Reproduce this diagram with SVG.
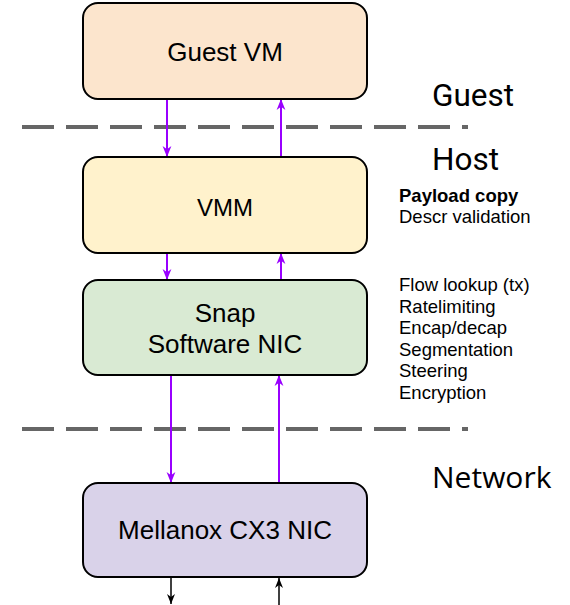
<svg xmlns="http://www.w3.org/2000/svg" width="570" height="605" viewBox="0 0 570 605">
<style>
.box{stroke:#000;stroke-width:2}
.lbl{font-family:Arial,"Liberation Sans",Helvetica,sans-serif;font-size:26px;fill:#000;text-anchor:middle}
.side{font-family:Roboto,sans-serif;font-size:31.5px;fill:#000}
.note{font-family:Arial,"Liberation Sans",Helvetica,sans-serif;font-size:18.5px;fill:#000}
.dash{stroke:#666;stroke-width:4;stroke-dasharray:32 12;fill:none}
.p{stroke:#9900FF;stroke-width:2;fill:none}
.k{stroke:#000;stroke-width:1.5;fill:none}
</style>
<defs>
<marker id="ap" viewBox="0 0 10 10" refX="10" refY="5" markerWidth="11" markerHeight="11" markerUnits="userSpaceOnUse" orient="auto">
<path d="M0,1 L10,5 L0,9 L3,5 Z" fill="#9900FF"/>
</marker>
<marker id="ak" viewBox="0 0 10 10" refX="10" refY="5" markerWidth="10" markerHeight="10" markerUnits="userSpaceOnUse" orient="auto">
<path d="M0,1 L10,5 L0,9 L3,5 Z" fill="#000"/>
</marker>
</defs>

<g id="separators">
<line class="dash" x1="22" y1="127" x2="468" y2="127"/>
<line class="dash" x1="22" y1="429" x2="468" y2="429"/>
</g>

<g id="connectors">
<line class="p" x1="167" y1="99" x2="167" y2="157" marker-end="url(#ap)"/>
<line class="p" x1="281" y1="157" x2="281" y2="99" marker-end="url(#ap)"/>
<line class="p" x1="167" y1="253" x2="167" y2="280" marker-end="url(#ap)"/>
<line class="p" x1="281" y1="280" x2="281" y2="253" marker-end="url(#ap)"/>
<line class="p" x1="171" y1="375" x2="171" y2="483" marker-end="url(#ap)"/>
<line class="p" x1="279" y1="483" x2="279" y2="375" marker-end="url(#ap)"/>
<line class="k" x1="171" y1="577" x2="171" y2="604" marker-end="url(#ak)"/>
<line class="k" x1="279" y1="605" x2="279" y2="578" marker-end="url(#ak)"/>
</g>

<g id="guest-vm">
<rect class="box" x="83" y="3" width="284" height="96" rx="15" fill="#FCE5CD"/>
<text class="lbl" x="225" y="61">Guest VM</text>
</g>

<g id="vmm">
<rect class="box" x="83" y="157" width="284" height="96" rx="15" fill="#FFF2CC"/>
<text class="lbl" x="225" y="216" style="font-size:24px">VMM</text>
</g>

<g id="snap">
<rect class="box" x="83" y="280" width="284" height="95" rx="15" fill="#D9EAD3"/>
<text class="lbl" x="225" y="322">Snap</text>
<text class="lbl" x="225" y="353">Software NIC</text>
</g>

<g id="mellanox">
<rect class="box" x="83" y="483" width="284" height="94" rx="15" fill="#D9D2E9"/>
<text class="lbl" x="225" y="539">Mellanox CX3 NIC</text>
</g>

<g id="labels">
<text class="side" x="432" y="106">Guest</text>
<text class="side" x="432" y="170">Host</text>
<text class="side" x="432" y="488" style="font-family:'Open Sans','Noto Sans',sans-serif;font-size:30px">Network</text>
<text class="note" x="399" y="202" font-weight="bold">Payload copy</text>
<text class="note" x="399" y="223">Descr validation</text>
<text class="note" x="399" y="291">Flow lookup (tx)</text>
<text class="note" x="399" y="312.6">Ratelimiting</text>
<text class="note" x="399" y="334.2">Encap/decap</text>
<text class="note" x="399" y="355.8">Segmentation</text>
<text class="note" x="399" y="377.4">Steering</text>
<text class="note" x="399" y="399">Encryption</text>
</g>
</svg>
